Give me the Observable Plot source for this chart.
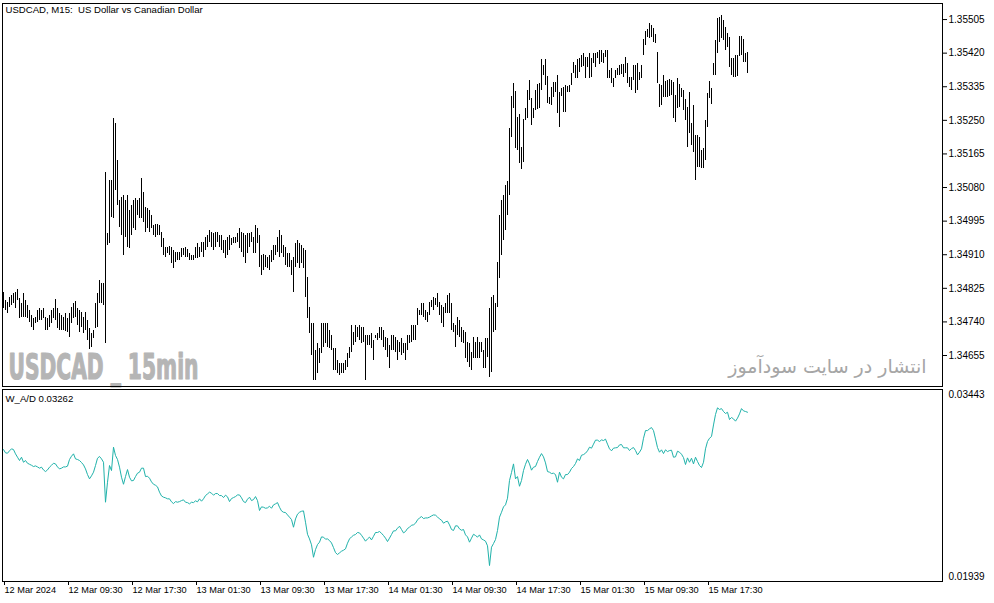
<!DOCTYPE html>
<html><head><meta charset="utf-8">
<script src="https://cdn.jsdelivr.net/npm/d3@7"></script>
<script src="https://cdn.jsdelivr.net/npm/@observablehq/plot@0.6"></script>
<style>
html,body{margin:0;padding:0;background:#fff;}
#chart{position:relative;width:994px;height:603px;overflow:hidden;background:#fff;}
#chart svg{position:absolute;left:0;}
</style></head><body><div id="chart"></div>
<script>
const title = "USDCAD, M15:  US Dollar vs Canadian Dollar";
const indicatorName = "W_A/D";
const watermark = "USDCAD _ 15min";
const watermarkFa = "انتشار در سایت سودآموز";
const startTime = "2024-03-12T01:30:00Z";
const barMinutes = 15;

const highs = [
1.34814,1.34794,1.34789,1.34802,1.34807,1.34811,1.34814,1.34822,1.34799,1.34786,
1.34811,1.34794,1.34782,1.34769,1.34756,1.34749,1.34751,1.34769,1.34774,1.34769,
1.34774,1.34751,1.34749,1.34756,1.34769,1.34774,1.34797,1.34774,1.34761,1.34756,
1.34751,1.34761,1.34749,1.34761,1.34777,1.34786,1.34792,1.34774,1.34769,1.34764,
1.34751,1.34764,1.34744,1.34723,1.34711,1.34718,1.34786,1.34811,1.34845,1.34837,
1.34837,1.35118,1.34964,1.35098,1.35098,1.35255,1.35242,1.35148,1.35047,1.35055,
1.35060,1.35047,1.35060,1.35022,1.35035,1.35047,1.35052,1.35047,1.35052,1.35103,
1.35067,1.35030,1.35027,1.35022,1.35009,1.34984,1.34987,1.34987,1.34984,1.34966,
1.34951,1.34928,1.34928,1.34931,1.34928,1.34921,1.34916,1.34916,1.34916,1.34926,
1.34926,1.34928,1.34923,1.34913,1.34908,1.34908,1.34928,1.34938,1.34928,1.34941,
1.34941,1.34954,1.34959,1.34971,1.34966,1.34964,1.34966,1.34966,1.34959,1.34959,
1.34946,1.34946,1.34954,1.34959,1.34951,1.34954,1.34954,1.34964,1.34976,1.34966,
1.34964,1.34959,1.34964,1.34964,1.34966,1.34954,1.34984,1.34976,1.34959,1.34908,
1.34911,1.34908,1.34903,1.34908,1.34921,1.34933,1.34933,1.34954,1.34971,1.34959,
1.34933,1.34928,1.34913,1.34913,1.34895,1.34903,1.34938,1.34946,1.34938,1.34933,
1.34926,1.34921,1.34852,1.34777,1.34736,1.34736,1.34668,1.34685,1.34673,1.34736,
1.34736,1.34736,1.34736,1.34718,1.34706,1.34673,1.34673,1.34642,1.34635,1.34635,
1.34635,1.34642,1.34660,1.34675,1.34731,1.34713,1.34731,1.34726,1.34731,1.34726,
1.34726,1.34706,1.34706,1.34706,1.34711,1.34693,1.34706,1.34711,1.34726,1.34726,
1.34718,1.34701,1.34698,1.34680,1.34706,1.34706,1.34701,1.34693,1.34688,1.34698,
1.34685,1.34685,1.34706,1.34706,1.34731,1.34731,1.34731,1.34774,1.34769,1.34786,
1.34786,1.34769,1.34764,1.34789,1.34794,1.34802,1.34799,1.34811,1.34789,1.34782,
1.34777,1.34786,1.34807,1.34811,1.34786,1.34736,1.34731,1.34751,1.34744,1.34726,
1.34718,1.34713,1.34688,1.34685,1.34663,1.34701,1.34688,1.34701,1.34688,1.34688,
1.34668,1.34698,1.34698,1.34774,1.34802,1.34807,1.34786,1.34891,1.35009,1.35047,
1.35060,1.35085,1.35095,1.35230,1.35310,1.35343,1.35323,1.35257,1.35265,1.35181,
1.35252,1.35280,1.35325,1.35351,1.35305,1.35280,1.35325,1.35341,1.35343,1.35404,
1.35389,1.35404,1.35361,1.35308,1.35333,1.35346,1.35346,1.35363,1.35320,1.35330,
1.35333,1.35338,1.35335,1.35338,1.35368,1.35396,1.35389,1.35404,1.35406,1.35414,
1.35419,1.35409,1.35409,1.35419,1.35406,1.35419,1.35419,1.35422,1.35427,1.35427,
1.35419,1.35427,1.35427,1.35376,1.35381,1.35356,1.35376,1.35381,1.35389,1.35391,
1.35391,1.35409,1.35394,1.35358,1.35358,1.35389,1.35389,1.35394,1.35371,1.35389,
1.35455,1.35475,1.35480,1.35495,1.35490,1.35482,1.35467,1.35422,1.35341,1.35338,
1.35363,1.35348,1.35351,1.35353,1.35351,1.35346,1.35313,1.35356,1.35341,1.35330,
1.35325,1.35303,1.35283,1.35320,1.35242,1.35288,1.35212,1.35212,1.35207,1.35174,
1.35179,1.35250,1.35318,1.35348,1.35330,1.35394,1.35452,1.35508,1.35510,1.35515,
1.35503,1.35485,1.35470,1.35460,1.35406,1.35406,1.35414,1.35414,1.35462,1.35462,
1.35455,1.35419,1.35422
];

const lows = [
1.34774,1.34769,1.34761,1.34777,1.34782,1.34786,1.34774,1.34794,1.34749,1.34751,
1.34751,1.34751,1.34749,1.34739,1.34726,1.34718,1.34736,1.34739,1.34744,1.34744,
1.34749,1.34718,1.34718,1.34726,1.34736,1.34749,1.34744,1.34723,1.34718,1.34718,
1.34718,1.34716,1.34713,1.34701,1.34736,1.34749,1.34751,1.34731,1.34713,1.34726,
1.34711,1.34718,1.34693,1.34670,1.34675,1.34698,1.34723,1.34726,1.34786,1.34786,
1.34782,1.34685,1.34933,1.34938,1.35004,1.35002,1.35072,1.35035,1.34979,1.34959,
1.34908,1.34954,1.34928,1.34925,1.34959,1.34976,1.34971,1.35009,1.35002,1.35002,
1.34992,1.34966,1.34976,1.34966,1.34976,1.34959,1.34954,1.34959,1.34959,1.34928,
1.34908,1.34903,1.34913,1.34908,1.34888,1.34875,1.34890,1.34895,1.34895,1.34903,
1.34908,1.34903,1.34903,1.34895,1.34895,1.34895,1.34900,1.34900,1.34903,1.34916,
1.34903,1.34921,1.34928,1.34941,1.34928,1.34921,1.34928,1.34941,1.34928,1.34921,
1.34913,1.34900,1.34908,1.34921,1.34933,1.34938,1.34938,1.34941,1.34925,1.34916,
1.34903,1.34888,1.34913,1.34928,1.34941,1.34913,1.34913,1.34938,1.34878,1.34857,
1.34870,1.34878,1.34875,1.34870,1.34890,1.34895,1.34908,1.34916,1.34903,1.34913,
1.34903,1.34883,1.34878,1.34878,1.34857,1.34814,1.34878,1.34888,1.34875,1.34888,
1.34875,1.34802,1.34749,1.34711,1.34655,1.34592,1.34592,1.34609,1.34635,1.34660,
1.34675,1.34685,1.34675,1.34673,1.34668,1.34617,1.34617,1.34609,1.34604,1.34609,
1.34609,1.34617,1.34625,1.34647,1.34663,1.34680,1.34688,1.34701,1.34693,1.34685,
1.34688,1.34592,1.34680,1.34680,1.34673,1.34642,1.34698,1.34693,1.34698,1.34693,
1.34675,1.34668,1.34650,1.34622,1.34668,1.34668,1.34663,1.34642,1.34663,1.34655,
1.34660,1.34642,1.34668,1.34685,1.34688,1.34693,1.34693,1.34731,1.34756,1.34756,
1.34751,1.34744,1.34739,1.34756,1.34777,1.34769,1.34782,1.34777,1.34756,1.34736,
1.34726,1.34761,1.34761,1.34761,1.34718,1.34713,1.34675,1.34706,1.34701,1.34688,
1.34685,1.34647,1.34637,1.34625,1.34617,1.34647,1.34647,1.34647,1.34647,1.34663,
1.34622,1.34622,1.34650,1.34599,1.34612,1.34713,1.34718,1.34777,1.34850,1.34908,
1.34946,1.34971,1.35009,1.35060,1.35207,1.35280,1.35179,1.35174,1.35141,1.35126,
1.35143,1.35250,1.35255,1.35300,1.35237,1.35255,1.35275,1.35277,1.35280,1.35325,
1.35363,1.35338,1.35293,1.35290,1.35288,1.35308,1.35320,1.35267,1.35232,1.35310,
1.35270,1.35270,1.35320,1.35320,1.35338,1.35368,1.35356,1.35356,1.35371,1.35384,
1.35386,1.35356,1.35384,1.35356,1.35358,1.35394,1.35384,1.35406,1.35391,1.35396,
1.35394,1.35409,1.35356,1.35356,1.35343,1.35333,1.35356,1.35363,1.35363,1.35366,
1.35358,1.35368,1.35343,1.35333,1.35325,1.35351,1.35318,1.35325,1.35351,1.35356,
1.35414,1.35439,1.35460,1.35457,1.35460,1.35447,1.35444,1.35343,1.35283,1.35288,
1.35308,1.35308,1.35308,1.35310,1.35313,1.35255,1.35245,1.35280,1.35283,1.35308,
1.35275,1.35250,1.35181,1.35217,1.35186,1.35169,1.35098,1.35131,1.35131,1.35128,
1.35128,1.35148,1.35232,1.35305,1.35290,1.35363,1.35363,1.35419,1.35447,1.35457,
1.35452,1.35427,1.35434,1.35384,1.35363,1.35358,1.35358,1.35361,1.35412,1.35414,
1.35396,1.35396,1.35368
];

const wad = [
0.02965,0.02939,0.02936,0.02955,0.02971,0.02965,0.02931,0.02904,0.02878,0.02904,
0.02864,0.02878,0.02856,0.02848,0.02840,0.02830,0.02835,0.02827,0.02817,0.02825,
0.02803,0.02790,0.02803,0.02825,0.02840,0.02856,0.02851,0.02827,0.02811,0.02817,
0.02827,0.02827,0.02833,0.02886,0.02912,0.02931,0.02891,0.02886,0.02878,0.02862,
0.02843,0.02811,0.02766,0.02732,0.02756,0.02785,0.02838,0.02896,0.02910,0.02891,
0.02864,0.02546,0.02705,0.02838,0.02798,0.02984,0.02918,0.02886,0.02825,0.02745,
0.02689,0.02750,0.02806,0.02745,0.02716,0.02719,0.02750,0.02777,0.02785,0.02817,
0.02817,0.02750,0.02753,0.02737,0.02708,0.02689,0.02681,0.02668,0.02626,0.02596,
0.02586,0.02581,0.02573,0.02573,0.02549,0.02535,0.02551,0.02546,0.02551,0.02559,
0.02565,0.02546,0.02543,0.02533,0.02546,0.02543,0.02557,0.02549,0.02573,0.02554,
0.02573,0.02599,0.02612,0.02626,0.02618,0.02602,0.02615,0.02615,0.02599,0.02599,
0.02583,0.02602,0.02589,0.02551,0.02575,0.02583,0.02591,0.02604,0.02604,0.02581,
0.02551,0.02543,0.02570,0.02586,0.02559,0.02567,0.02591,0.02559,0.02480,0.02509,
0.02506,0.02498,0.02501,0.02514,0.02498,0.02525,0.02533,0.02543,0.02506,0.02477,
0.02466,0.02464,0.02445,0.02427,0.02408,0.02347,0.02413,0.02451,0.02466,0.02474,
0.02477,0.02387,0.02291,0.02254,0.02207,0.02108,0.02169,0.02209,0.02228,0.02270,
0.02268,0.02252,0.02254,0.02241,0.02222,0.02185,0.02145,0.02130,0.02143,0.02156,
0.02164,0.02175,0.02220,0.02254,0.02270,0.02283,0.02289,0.02305,0.02302,0.02283,
0.02260,0.02236,0.02254,0.02268,0.02246,0.02275,0.02305,0.02305,0.02313,0.02299,
0.02281,0.02260,0.02233,0.02260,0.02289,0.02318,0.02318,0.02339,0.02355,0.02329,
0.02302,0.02313,0.02337,0.02347,0.02363,0.02366,0.02379,0.02405,0.02421,0.02432,
0.02416,0.02421,0.02421,0.02427,0.02437,0.02445,0.02443,0.02429,0.02413,0.02403,
0.02379,0.02390,0.02395,0.02366,0.02329,0.02321,0.02358,0.02358,0.02334,0.02323,
0.02329,0.02286,0.02270,0.02228,0.02260,0.02291,0.02281,0.02268,0.02286,0.02254,
0.02246,0.02236,0.02199,0.02042,0.02188,0.02217,0.02249,0.02321,0.02427,0.02466,
0.02509,0.02525,0.02578,0.02719,0.02782,0.02851,0.02732,0.02750,0.02673,0.02719,
0.02798,0.02848,0.02886,0.02851,0.02801,0.02825,0.02830,0.02870,0.02904,0.02933,
0.02907,0.02859,0.02790,0.02785,0.02774,0.02777,0.02766,0.02705,0.02785,0.02745,
0.02732,0.02766,0.02766,0.02785,0.02814,0.02830,0.02854,0.02891,0.02878,0.02920,
0.02925,0.02936,0.02955,0.02984,0.02976,0.03008,0.03040,0.03040,0.03029,0.03042,
0.03037,0.03048,0.03008,0.02971,0.02955,0.02976,0.02979,0.02981,0.03002,0.03005,
0.02979,0.02979,0.02979,0.02957,0.02973,0.02981,0.02957,0.02923,0.02944,0.02971,
0.03055,0.03116,0.03116,0.03130,0.03140,0.03116,0.03050,0.02981,0.02944,0.02963,
0.02933,0.02963,0.02949,0.02957,0.02960,0.02904,0.02907,0.02952,0.02944,0.02928,
0.02901,0.02846,0.02899,0.02864,0.02896,0.02851,0.02904,0.02870,0.02838,0.02822,
0.02864,0.02971,0.03029,0.03055,0.03069,0.03161,0.03244,0.03297,0.03284,0.03291,
0.03268,0.03252,0.03262,0.03204,0.03220,0.03209,0.03191,0.03215,0.03249,0.03291,
0.03273,0.03268,0.03262
];

const priceTicks = [1.35505,1.35420,1.35335,1.35250,1.35165,1.35080,1.34995,1.34910,1.34825,1.34740,1.34655];
const priceDomain = [1.345766, 1.355456];
const wadBounds = [0.01939, 0.03443];
const timeTicks = ["2024-03-12T01:30:00Z","2024-03-12T09:30:00Z","2024-03-12T17:30:00Z","2024-03-13T01:30:00Z",
  "2024-03-13T09:30:00Z","2024-03-13T17:30:00Z","2024-03-14T01:30:00Z","2024-03-14T09:30:00Z",
  "2024-03-14T17:30:00Z","2024-03-15T01:30:00Z","2024-03-15T09:30:00Z","2024-03-15T17:30:00Z"];
const timeTickLabels = ["12 Mar 2024","12 Mar 09:30","12 Mar 17:30","13 Mar 01:30","13 Mar 09:30","13 Mar 17:30",
  "14 Mar 01:30","14 Mar 09:30","14 Mar 17:30","15 Mar 01:30","15 Mar 09:30","15 Mar 17:30"];

const t0 = new Date(startTime);
const step = barMinutes * 60000;
const n = Math.min(highs.length, lows.length, wad.length);
const bars = d3.range(n).map(i => ({t: new Date(+t0 + i * step), high: highs[i], low: lows[i], wad: wad[i]}));
const xDomain = [new Date(+t0 - 0.5 * step), new Date(+t0 + 469.5 * step)];
const tickDates = timeTicks.map(s => new Date(s));
const font = "'Liberation Sans', Arial, sans-serif";
const ML = 2, MR = 52, W = 994;

const topPlot = Plot.plot({
  width: W, height: 388, marginTop: 3, marginBottom: 2, marginLeft: ML, marginRight: MR,
  style: {fontFamily: font, fontSize: "10px", background: "transparent", color: "black", overflow: "visible"},
  x: {type: "utc", domain: xDomain, axis: null},
  y: {domain: priceDomain, axis: null},
  marks: [
    Plot.text([watermark], {frameAnchor: "bottom-left", dx: 6, dy: -19, textAnchor: "start", lineAnchor: "middle",
      fill: "#b5b5b5", stroke: "#b5b5b5", strokeWidth: 1.2, fontSize: 35, fontWeight: "bold",
      fontFamily: "'DejaVu Sans Condensed', 'DejaVu Sans', sans-serif"}),
    Plot.text([watermarkFa], {frameAnchor: "bottom-right", dx: -16, dy: -20, textAnchor: "end", lineAnchor: "middle",
      fill: "#a6a6a6", fontSize: 19, fontFamily: "'DejaVu Sans', sans-serif"}),
    Plot.ruleX(bars, {x: "t", y1: "low", y2: "high", stroke: "black", strokeWidth: 1, shapeRendering: "crispEdges"}),
    Plot.frame({stroke: "black", shapeRendering: "crispEdges"}),
    Plot.axisY({anchor: "right", label: null, ticks: priceTicks, tickSize: 4, tickPadding: 2, tickFormat: d => d.toFixed(5), fontSize: 10}),
    Plot.text([title], {frameAnchor: "top-left", dx: 3, dy: 6, textAnchor: "start", lineAnchor: "middle", fill: "black", fontSize: 9.6})
  ]
});

const botPlot = Plot.plot({
  width: W, height: 215, marginTop: 1, marginBottom: 22, marginLeft: ML, marginRight: MR,
  style: {fontFamily: font, fontSize: "10px", background: "transparent", color: "black", overflow: "visible"},
  x: {type: "utc", domain: xDomain, axis: null},
  y: {domain: wadBounds, axis: null, insetBottom: 3},
  marks: [
    Plot.line(bars, {x: "t", y: "wad", stroke: "#20b2aa", strokeWidth: 1}),
    Plot.frame({stroke: "black", shapeRendering: "crispEdges"}),
    Plot.axisX({anchor: "bottom", label: null, ticks: tickDates, tickSize: 4, tickPadding: 1, textAnchor: "start", dx: 1,
      tickFormat: d => timeTickLabels[tickDates.findIndex(t => +t === +d)], fontSize: 9.2}),
    Plot.axisY({anchor: "right", label: null, ticks: [wadBounds[1]], tickSize: 0, tickPadding: 6, dy: 5, tickFormat: d => d.toFixed(5), fontSize: 10}),
    Plot.axisY({anchor: "right", label: null, ticks: [wadBounds[0]], tickSize: 0, tickPadding: 6, dy: -2, tickFormat: d => d.toFixed(5), fontSize: 10}),
    Plot.text([`${indicatorName} ${wad[n - 1].toFixed(5)}`], {frameAnchor: "top-left", dx: 3, dy: 9, textAnchor: "start", lineAnchor: "middle", fill: "black", fontSize: 9.6})
  ]
});

const chart = document.getElementById("chart");
topPlot.style.top = "0px";
botPlot.style.top = "388px";
chart.appendChild(topPlot);
chart.appendChild(botPlot);

// stretch the watermark to its width in the reference
d3.select(topPlot).selectAll("text").filter(function(){ return this.textContent === watermark; })
  .attr("textLength", 190).attr("lengthAdjust", "spacingAndGlyphs");
</script>
</body></html>
